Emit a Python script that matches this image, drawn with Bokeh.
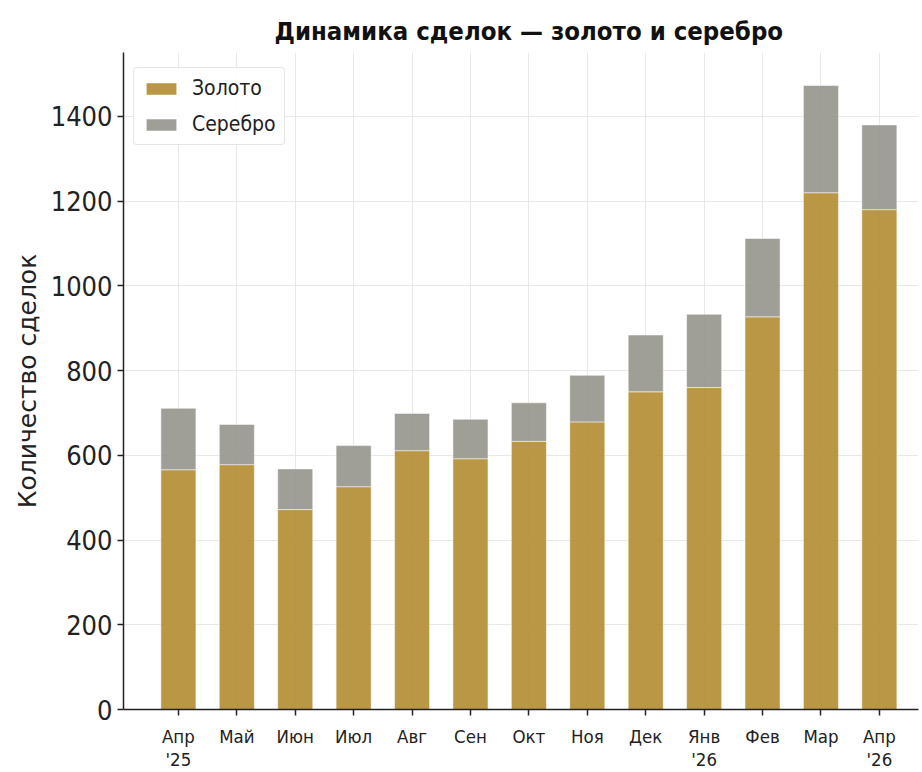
from bokeh.plotting import figure
from bokeh.models import Range1d, FixedTicker, ColumnDataSource, Legend, LegendItem
from bokeh.embed import file_html
from bokeh.resources import INLINE

title_text = "Динамика сделок — золото и серебро"
months = ["Апр\n'25", "Май", "Июн", "Июл", "Авг", "Сен", "Окт", "Ноя", "Дек", "Янв\n'26", "Фев", "Мар", "Апр\n'26"]
gold = [566, 578, 472, 526, 611, 592, 633, 679, 750, 760, 927, 1220, 1180]
silver = [145, 95, 96, 97, 88, 93, 91, 110, 134, 173, 185, 253, 200]
y_ticks = [0, 200, 400, 600, 800, 1000, 1200, 1400]

NARROW = "'DejaVu Sans Condensed', 'Roboto Condensed', 'Liberation Sans Narrow', 'DejaVu Sans'"

xs = list(range(len(months)))
total = [g + s for g, s in zip(gold, silver)]
src = ColumnDataSource(dict(x=xs, gold=gold, total=total))

p = figure(width=920, height=772, output_backend="svg", toolbar_location=None,
           x_range=Range1d(-0.94, 12.67), y_range=Range1d(0, 1551),
           min_border_left=123, min_border_right=2, min_border_top=52, min_border_bottom=63)

r_gold = p.vbar(x="x", top="gold", bottom=0, width=0.6, source=src,
                fill_color="#B18C31", fill_alpha=0.9, line_color="white", line_alpha=0.5, line_width=1)
r_silver = p.vbar(x="x", top="total", bottom="gold", width=0.6, source=src,
                  fill_color="#95948C", fill_alpha=0.9, line_color="white", line_alpha=0.5, line_width=1)

p.title.text = title_text
p.title.align = "left"
p.title.vertical_align = "top"
p.title.offset = 151
p.title.standoff = 10
p.title.text_font = NARROW
p.title.text_font_style = "bold"
p.title.text_font_size = "25.5px"
p.title.text_color = "#111111"

p.xaxis.ticker = FixedTicker(ticks=xs)
p.xaxis.major_label_overrides = {i: m for i, m in enumerate(months)}
p.yaxis.ticker = FixedTicker(ticks=y_ticks)

for ax in (p.xaxis, p.yaxis):
    ax.axis_line_color = "#222222"
    ax.axis_line_width = 1.5
    ax.major_tick_line_color = "#222222"
    ax.major_tick_line_width = 1.5
    ax.major_tick_out = 6
    ax.major_tick_in = 0
    ax.minor_tick_line_color = None
    ax.major_label_text_font = NARROW
    ax.major_label_text_color = "#222222"

p.xaxis.major_label_text_font_size = "18.5px"
p.xaxis.major_label_text_line_height = 1.1
p.yaxis.major_label_text_font_size = "27px"
p.xaxis.major_label_standoff = 10
p.yaxis.major_label_standoff = 5

p.yaxis.axis_label = "Количество сделок"
p.yaxis.axis_label_text_font = "DejaVu Sans"
p.yaxis.axis_label_text_font_style = "normal"
p.yaxis.axis_label_text_font_size = "25px"
p.yaxis.axis_label_text_color = "#222222"
p.yaxis.axis_label_standoff = 6

p.xgrid.ticker = FixedTicker(ticks=xs)
p.grid.grid_line_color = "#e8e8e8"
p.grid.grid_line_width = 1

p.outline_line_color = None

legend = Legend(items=[LegendItem(label="Золото", renderers=[r_gold]),
                       LegendItem(label="Серебро", renderers=[r_silver])],
                location=(10, 564))
legend.label_text_font = NARROW
legend.label_text_font_size = "21px"
legend.label_text_color = "#222222"
legend.glyph_width = 38
legend.glyph_height = 15
legend.label_standoff = 12
legend.padding = 8
legend.spacing = 12
legend.border_line_color = "#cccccc"
legend.border_line_width = 1
legend.border_radius = 4
legend.background_fill_alpha = 0.9
p.add_layout(legend)

open("out.html", "w").write(file_html(p, INLINE))
